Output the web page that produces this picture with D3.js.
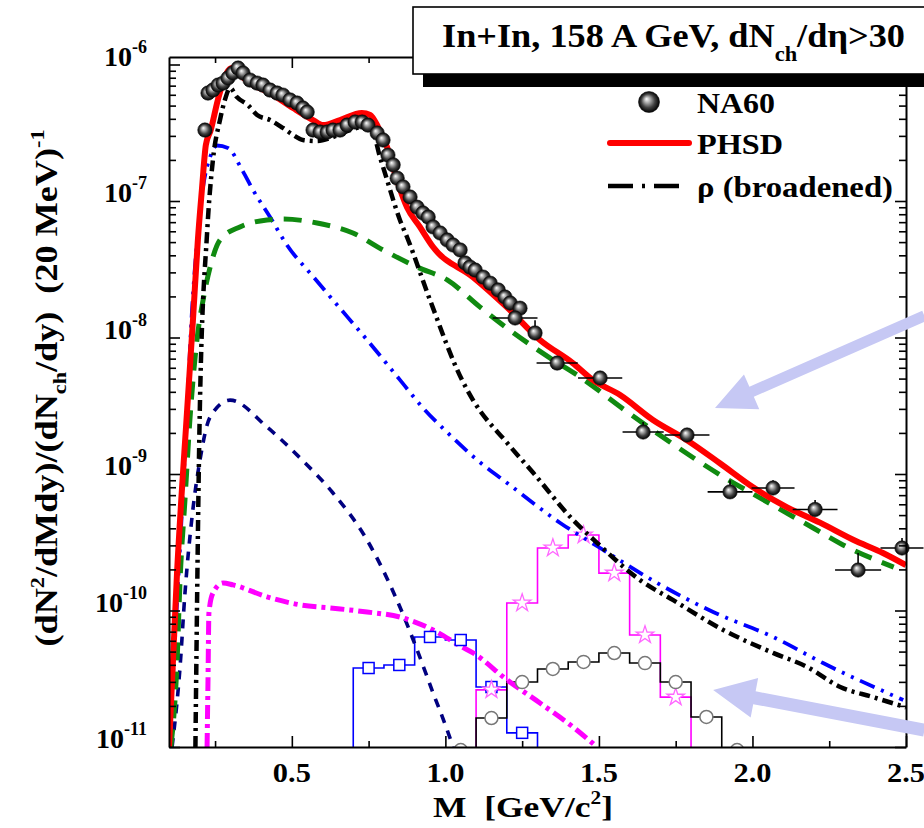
<!DOCTYPE html>
<html>
<head>
<meta charset="utf-8">
<script src="https://cdnjs.cloudflare.com/ajax/libs/d3/7.8.5/d3.min.js"></script>
<style>
body { margin: 0; background: #fff; }
text { font-family: "Liberation Serif", "Times New Roman", Times, serif; font-weight: bold; fill: #000; white-space: pre; }
</style>
</head>
<body>
<div id="graph"></div>
<script>
// NA60 data, fine 20 MeV bins
var na60M = [0.217, 0.227, 0.243, 0.260, 0.276, 0.292, 0.308, 0.325, 0.341, 0.364, 0.387, 0.406, 0.429, 0.452, 0.471, 0.494, 0.517, 0.536, 0.550, 0.569, 0.592, 0.615, 0.634, 0.657, 0.680, 0.706, 0.729, 0.748, 0.778, 0.797, 0.813, 0.830, 0.843, 0.862, 0.885, 0.908, 0.927, 0.944, 0.960, 0.983, 1.006, 1.025, 1.048, 1.064, 1.080, 1.097, 1.123, 1.146, 1.172, 1.194, 1.211, 1.243]
var na60V = [3.31e-7, 6.18e-7, 6.5e-7, 7.07e-7, 7.31e-7, 7.96e-7, 8.67e-7, 9.42e-7, 8.67e-7, 7.69e-7, 7.31e-7, 7.07e-7, 6.5e-7, 6.18e-7, 5.97e-7, 5.5e-7, 5.22e-7, 4.8e-7, 4.49e-7, 3.31e-7, 3.2e-7, 3.2e-7, 3.31e-7, 3.31e-7, 3.6e-7, 3.79e-7, 3.79e-7, 3.6e-7, 3.15e-7, 2.8e-7, 2.17e-7, 1.84e-7, 1.47e-7, 1.27e-7, 1.07e-7, 9.0e-8, 8.17e-8, 7.63e-8, 6.46e-8, 5.83e-8, 5.18e-8, 4.76e-8, 4.38e-8, 3.52e-8, 3.28e-8, 3.12e-8, 2.77e-8, 2.5e-8, 2.23e-8, 1.98e-8, 1.79e-8, 1.64e-8]
// NA60 data, wide bins with error bars
var na60BinM = [1.227, 1.292, 1.364, 1.504, 1.644, 1.787, 1.927, 2.067, 2.204, 2.344, 2.487]
var na60BinV = [1.39e-8, 1.08e-8, 6.5e-9, 5.05e-9, 2.03e-9, 1.93e-9, 7.4e-10, 7.9e-10, 5.5e-10, 1.98e-10, 2.87e-10]
var na60BinDx = [0.073, 0, 0.067, 0.072, 0.067, 0.073, 0.073, 0.07, 0.073, 0.075, 0.07]
var na60BinHi = [1.5e-8, 1.34e-8, 7.0e-9, 5.5e-9, 2.4e-9, 2.1e-9, 9.0e-10, 9.0e-10, 6.46e-10, 2.64e-10, 3.4e-10]

var phsdM = [0.100, 0.126, 0.159, 0.178, 0.194, 0.207, 0.220, 0.236, 0.259, 0.288, 0.305, 0.331, 0.364, 0.429, 0.504, 0.569, 0.602, 0.657, 0.728, 0.755, 0.781, 0.810, 0.842, 0.875, 0.917, 0.960, 1.090, 1.200, 1.308, 1.415, 1.480, 1.569, 1.676, 1.787, 1.894, 2.002, 2.113, 2.220, 2.328, 2.425, 2.500]
var phsdV = [1e-11, 1.86e-10, 2.94e-9, 1.34e-8, 5.18e-8, 1.2e-7, 2.57e-7, 3.31e-7, 5.5e-7, 8.67e-7, 9.42e-7, 8.38e-7, 7.31e-7, 6.18e-7, 4.8e-7, 3.92e-7, 3.6e-7, 3.92e-7, 4.42e-7, 4.27e-7, 3.48e-7, 2.49e-7, 1.43e-7, 9.0e-8, 6.46e-8, 4.6e-8, 2.77e-8, 1.67e-8, 9.6e-9, 6.5e-9, 4.89e-9, 3.79e-9, 2.49e-9, 1.77e-9, 1.2e-9, 8.0e-10, 5.7e-10, 4.4e-10, 3.3e-10, 2.64e-10, 2.15e-10]

var rhoM = [0.186, 0.201, 0.224, 0.243, 0.266, 0.282, 0.299, 0.321, 0.357, 0.387, 0.429, 0.471, 0.504, 0.536, 0.582, 0.634, 0.690, 0.732, 0.761, 0.787, 0.810, 0.830, 0.852, 0.875, 0.950, 1.054, 1.090, 1.201, 1.286, 1.416, 1.494, 1.634, 1.742, 1.905, 2.067, 2.178, 2.286, 2.393, 2.500]
var rhoV = [1e-11, 3.48e-9, 5.83e-8, 2.0e-7, 3.92e-7, 5.5e-7, 6.73e-7, 5.78e-7, 5.05e-7, 4.27e-7, 3.92e-7, 3.43e-7, 3.05e-7, 2.8e-7, 2.75e-7, 2.94e-7, 3.31e-7, 3.48e-7, 3.31e-7, 2.1e-7, 1.43e-7, 1.02e-7, 7.26e-8, 5.45e-8, 1.88e-8, 4.89e-9, 3.48e-9, 1.69e-9, 1.02e-9, 4.6e-10, 3.13e-10, 1.67e-10, 1.19e-10, 7.2e-11, 4.89e-11, 3.86e-11, 2.75e-11, 2.32e-11, 1.95e-11]

var blueM = [0.100, 0.159, 0.175, 0.191, 0.211, 0.234, 0.256, 0.292, 0.338, 0.374, 0.429, 0.484, 0.569, 0.634, 0.745, 0.852, 0.927, 1.015, 1.103, 1.201, 1.374, 1.504, 1.690, 1.872, 2.067, 2.230, 2.491]
var blueV = [1e-11, 2.94e-9, 1.59e-8, 4.92e-8, 1.27e-7, 2.1e-7, 2.55e-7, 2.45e-7, 1.69e-7, 1.2e-7, 7.63e-8, 4.76e-8, 2.8e-8, 1.88e-8, 9.6e-9, 4.89e-9, 3.05e-9, 1.93e-9, 1.27e-9, 8.6e-10, 4.38e-10, 2.87e-10, 1.59e-10, 9.75e-11, 6.4e-11, 4.12e-11, 2.21e-11]

var greenM = [0.106, 0.126, 0.136, 0.152, 0.168, 0.191, 0.211, 0.234, 0.266, 0.331, 0.419, 0.471, 0.582, 0.699, 0.797, 0.908, 1.006, 1.113, 1.201, 1.351, 1.429, 1.592, 1.732, 1.895, 2.048, 2.198, 2.295, 2.460]
var greenV = [1e-11, 4.12e-11, 1.67e-10, 6.46e-10, 2.49e-9, 9.6e-9, 1.88e-8, 3.28e-8, 5.18e-8, 6.46e-8, 7.26e-8, 7.38e-8, 6.9e-8, 5.83e-8, 4.38e-8, 3.28e-8, 2.64e-8, 1.67e-8, 1.17e-8, 6.84e-9, 5.31e-9, 2.85e-9, 1.71e-9, 9.84e-10, 6.24e-10, 4.02e-10, 3.02e-10, 2.08e-10]

var navyM = [0.110, 0.136, 0.152, 0.175, 0.201, 0.234, 0.299, 0.419, 0.527, 0.634, 0.745, 0.852, 0.908, 0.960, 1.006, 1.025]
var navyV = [1e-11, 3.86e-11, 1.34e-10, 4.84e-10, 1.27e-9, 2.62e-9, 3.48e-9, 2.21e-9, 1.31e-9, 7.26e-10, 3.28e-10, 1.06e-10, 5.14e-11, 2.49e-11, 1.33e-11, 1e-11]

var magM = [0.224, 0.227, 0.230, 0.243, 0.276, 0.308, 0.419, 0.527, 0.634, 0.745, 0.852, 0.960, 1.054, 1.090, 1.201, 1.308, 1.416, 1.494]
var magV = [1e-11, 3.1e-11, 9.6e-11, 1.34e-10, 1.59e-10, 1.54e-10, 1.26e-10, 1.1e-10, 1.04e-10, 9.75e-11, 8.95e-11, 7.2e-11, 5.41e-11, 4.89e-11, 3.1e-11, 2.1e-11, 1.4e-11, 1e-11]

// histograms (bin edges, contents)
var sqEdges = [0.7, 0.8, 0.9, 1.0, 1.1, 1.2, 1.3]
var sqV = [3.79e-11, 3.99e-11, 6.4e-11, 6.08e-11, 2.75e-11, 1.27e-11]
var starEdges = [1.1, 1.2, 1.3, 1.4, 1.5, 1.6, 1.7, 1.8]
var starV = [2.62e-11, 1.135e-10, 2.87e-10, 3.57e-10, 1.88e-10, 6.62e-11, 2.32e-11]
var circEdges = [1.0, 1.1, 1.2, 1.3, 1.4, 1.5, 1.6, 1.7, 1.8, 1.9, 2.0]
var circV = [9.5e-12, 1.63e-11, 2.99e-11, 3.73e-11, 4.2e-11, 4.88e-11, 4.12e-11, 2.99e-11, 1.66e-11, 9.5e-12]

var xMajor = [0.5, 1.0, 1.5, 2.0, 2.5]
var xMinor = [0.25, 0.75, 1.25, 1.75, 2.25]
var yExp = [-6, -7, -8, -9, -10, -11]

// arrows (data coords)
var arrowFrom = [[2.56, 1.44e-8], [2.56, 1.33e-11]]
var arrowTo = [[1.878, 3.05e-9], [1.872, 2.62e-11]]

const width = 924
const height = 828
var pL = 169, pR = 906, pT = 57, pB = 747

var x = d3.scaleLinear().domain([0.1, 2.5]).range([pL, pR])
var y = d3.scaleLog().domain([1e-11, 1.135e-6]).range([pB, pT])

var svg = d3.select("#graph").append("svg").attr("width", width).attr("height", height)
var defs = svg.append("defs")
defs.append("clipPath").attr("id", "plotclip").append("rect")
	.attr("x", pL).attr("y", pT).attr("width", pR - pL).attr("height", pB - pT)
var grad = defs.append("radialGradient").attr("id", "ball")
	.attr("cx", "50%").attr("cy", "50%").attr("r", "50%").attr("fx", "38%").attr("fy", "35%")
grad.append("stop").attr("offset", "0%").attr("stop-color", "#ffffff")
grad.append("stop").attr("offset", "25%").attr("stop-color", "#b8b8b8")
grad.append("stop").attr("offset", "65%").attr("stop-color", "#404040")
grad.append("stop").attr("offset", "100%").attr("stop-color", "#000000")

function zip(ms, vs) { return ms.map((m, i) => [m, vs[i]]) }
var smooth = d3.line().x(d => x(d[0])).y(d => y(d[1])).curve(d3.curveMonotoneX)
var straight = d3.line().x(d => x(d[0])).y(d => y(d[1]))
function histPts(edges, vals) {
	var p = [[edges[0], 1e-12]]
	vals.forEach((v, i) => { p.push([edges[i], v]); p.push([edges[i + 1], v]) })
	p.push([edges[edges.length - 1], 1e-12])
	return p
}
function centers(edges, vals) { return vals.map((v, i) => [(edges[i] + edges[i + 1]) / 2, v]) }

var plot = svg.append("g").attr("clip-path", "url(#plotclip)")

// histograms
plot.append("path").attr("d", straight(histPts(sqEdges, sqV)))
	.style("fill", "none").style("stroke", "#0000ff").style("stroke-width", 1.6)
plot.append("path").attr("d", straight(histPts(starEdges, starV)))
	.style("fill", "none").style("stroke", "#ff00ff").style("stroke-width", 1.6)
plot.append("path").attr("d", straight(histPts(circEdges, circV)))
	.style("fill", "none").style("stroke", "#000").style("stroke-width", 1.6)

// curves
plot.append("path").attr("d", smooth(zip(navyM, navyV)))
	.style("fill", "none").style("stroke", "#000080").style("stroke-width", 3.6).style("stroke-dasharray", "9,8")
plot.append("path").attr("d", smooth(zip(magM, magV)))
	.style("fill", "none").style("stroke", "#ff00ff").style("stroke-width", 5).style("stroke-dasharray", "14,5,4,5")

plot.selectAll("rect.sq").data(centers(sqEdges, sqV)).enter().append("rect").attr("class", "sq")
	.attr("x", d => x(d[0]) - 5.5).attr("y", d => y(d[1]) - 5.5).attr("width", 11).attr("height", 11)
	.style("fill", "#fff").style("stroke", "#0000ff").style("stroke-width", 1.5)
plot.selectAll("path.star").data(centers(starEdges, starV)).enter().append("path").attr("class", "star")
	.attr("d", d3.symbol().type(d3.symbolStar).size(95))
	.attr("transform", d => "translate(" + x(d[0]) + "," + y(d[1]) + ")")
	.style("fill", "#fff").style("stroke", "#ff66ff").style("stroke-width", 1.3)
plot.selectAll("circle.mc").data(centers(circEdges, circV)).enter().append("circle").attr("class", "mc")
	.attr("cx", d => x(d[0])).attr("cy", d => y(d[1])).attr("r", 6.5)
	.style("fill", "#fff").style("stroke", "#777").style("stroke-width", 1.5)

plot.append("path").attr("d", smooth(zip(blueM, blueV)))
	.style("fill", "none").style("stroke", "#0000ff").style("stroke-width", 3.8).style("stroke-dasharray", "16,7,3,7,3,7")
plot.append("path").attr("d", smooth(zip(greenM, greenV)))
	.style("fill", "none").style("stroke", "#108a10").style("stroke-width", 5).style("stroke-dasharray", "18,11")
plot.append("path").attr("d", smooth(zip(rhoM, rhoV)))
	.style("fill", "none").style("stroke", "#000").style("stroke-width", 4.5).style("stroke-dasharray", "11,5,3,5")

// NA60 points
var bins = na60BinM.map((m, i) => ({ m: m, v: na60BinV[i], dx: na60BinDx[i], hi: na60BinHi[i] }))
svg.selectAll("line.xerr").data(bins.filter(d => d.dx > 0)).enter().append("line").attr("class", "xerr")
	.attr("x1", d => x(d.m - d.dx)).attr("x2", d => x(d.m + d.dx))
	.attr("y1", d => y(d.v)).attr("y2", d => y(d.v))
	.style("stroke", "#000").style("stroke-width", 1.6)
svg.selectAll("line.yerr").data(bins).enter().append("line").attr("class", "yerr")
	.attr("x1", d => x(d.m)).attr("x2", d => x(d.m))
	.attr("y1", d => y(d.v)).attr("y2", d => y(d.hi))
	.style("stroke", "#000").style("stroke-width", 1.6)
svg.selectAll("circle.na60").data(zip(na60M, na60V).concat(bins.map(d => [d.m, d.v]))).enter()
	.append("circle").attr("class", "na60")
	.attr("cx", d => x(d[0])).attr("cy", d => y(d[1])).attr("r", 7.2)
	.style("fill", "url(#ball)").style("stroke", "#111").style("stroke-width", 0.6)

plot.append("path").attr("d", smooth(zip(phsdM, phsdV)))
	.style("fill", "none").style("stroke", "#ff0000").style("stroke-width", 6).style("stroke-linejoin", "round")

// axes
var yMinor = []
d3.range(-11, -5).forEach(e => { for (var k = 2; k < 10; k++) { var v = k * Math.pow(10, e); if (v < 1.135e-6) yMinor.push(v) } })
var yMajor = yExp.map(e => Math.pow(10, e))

function axisG(ax, tx, ty) {
	var g = svg.append("g").attr("transform", "translate(" + tx + "," + ty + ")").call(ax)
	g.selectAll("line").style("stroke", "#000").style("stroke-width", 1.6)
	g.select(".domain").style("stroke", "#000").style("stroke-width", 2)
	return g
}
axisG(d3.axisBottom(x).tickValues(xMajor).tickSize(-11).tickSizeOuter(0).tickFormat(""), 0, pB)
axisG(d3.axisBottom(x).tickValues(xMinor).tickSize(-6).tickFormat(""), 0, pB).select(".domain").remove()
axisG(d3.axisTop(x).tickValues(xMajor).tickSize(-11).tickSizeOuter(0).tickFormat(""), 0, pT)
axisG(d3.axisTop(x).tickValues(xMinor).tickSize(-6).tickFormat(""), 0, pT).select(".domain").remove()
axisG(d3.axisLeft(y).tickValues(yMajor).tickSize(-11).tickSizeOuter(0).tickFormat(""), pL, 0)
axisG(d3.axisLeft(y).tickValues(yMinor).tickSize(-7).tickFormat(""), pL, 0).select(".domain").remove()
axisG(d3.axisRight(y).tickValues(yMajor).tickSize(-11).tickSizeOuter(0).tickFormat(""), pR, 0)
axisG(d3.axisRight(y).tickValues(yMinor).tickSize(-7).tickFormat(""), pR, 0).select(".domain").remove()

svg.selectAll("text.xt").data(xMajor).enter().append("text").attr("class", "xt")
	.attr("x", d => x(d)).attr("y", 782).attr("text-anchor", "middle")
	.attr("textLength", 38).attr("lengthAdjust", "spacingAndGlyphs")
	.style("font-size", "27px").text(d => d.toFixed(1))
var yt = svg.selectAll("text.yt").data(yExp).enter().append("text").attr("class", "yt")
	.attr("x", 147).attr("y", d => y(Math.pow(10, d)) + 1).attr("text-anchor", "end")
	.style("font-size", "28px").text("10")
yt.append("tspan").attr("dy", -13).style("font-size", "18px").text(d => String(d))

var xl = svg.append("text").attr("x", 433).attr("y", 817)
	.attr("textLength", 180).attr("lengthAdjust", "spacingAndGlyphs").style("font-size", "30px")
xl.append("tspan").text("M  [GeV/c")
xl.append("tspan").attr("dy", -13).style("font-size", "18px").text("2")
xl.append("tspan").attr("dy", 13).text("]")

var yl = svg.append("text").attr("transform", "translate(57,388) rotate(-90)").attr("text-anchor", "middle")
	.attr("textLength", 517).attr("lengthAdjust", "spacingAndGlyphs").style("font-size", "31px")
yl.append("tspan").text("(dN")
yl.append("tspan").attr("dy", -13).style("font-size", "19px").text("2")
yl.append("tspan").attr("dy", 13).text("/dMdy)/(dN")
yl.append("tspan").attr("dy", 9).style("font-size", "19px").text("ch")
yl.append("tspan").attr("dy", -9).text("/dy)  (20 MeV)")
yl.append("tspan").attr("dy", -13).style("font-size", "19px").text("-1")

// title box
svg.append("rect").attr("x", 423).attr("y", 17).attr("width", 520).attr("height", 70).style("fill", "#000")
svg.append("rect").attr("x", 413).attr("y", 7).attr("width", 520).attr("height", 67)
	.style("fill", "#fff").style("stroke", "#000").style("stroke-width", 1.6)
var tt = svg.append("text").attr("x", 442).attr("y", 47)
	.attr("textLength", 463).attr("lengthAdjust", "spacingAndGlyphs").style("font-size", "34px")
tt.append("tspan").text("In+In, 158 A GeV, dN")
tt.append("tspan").attr("dy", 14).style("font-size", "21px").text("ch")
tt.append("tspan").attr("dy", -14).text("/d\u03b7>30")

// legend
svg.append("circle").attr("cx", 649).attr("cy", 102).attr("r", 10.5)
	.style("fill", "url(#ball)").style("stroke", "#111").style("stroke-width", 0.6)
svg.append("line").attr("x1", 610).attr("x2", 689).attr("y1", 143).attr("y2", 143)
	.style("stroke", "#ff0000").style("stroke-width", 6).style("stroke-linecap", "round")
svg.append("line").attr("x1", 608).attr("x2", 680).attr("y1", 186).attr("y2", 186)
	.style("stroke", "#000").style("stroke-width", 4.5).style("stroke-dasharray", "25,9,3,9")
svg.append("text").attr("x", 697).attr("y", 113).attr("textLength", 78).attr("lengthAdjust", "spacingAndGlyphs")
	.style("font-size", "29px").text("NA60")
svg.append("text").attr("x", 697).attr("y", 154).attr("textLength", 86).attr("lengthAdjust", "spacingAndGlyphs")
	.style("font-size", "29px").text("PHSD")
svg.append("text").attr("x", 697).attr("y", 197).attr("textLength", 196).attr("lengthAdjust", "spacingAndGlyphs")
	.style("font-size", "29px").text("\u03c1 (broadened)")

// arrows
function arrow(from, to, w, hl, hw) {
	var x0 = x(from[0]), y0 = y(from[1]), x1 = x(to[0]), y1 = y(to[1])
	var dx = x1 - x0, dy = y1 - y0, len = Math.sqrt(dx * dx + dy * dy)
	var ux = dx / len, uy = dy / len, nx = -uy, ny = ux
	var bx = x1 - ux * hl, by = y1 - uy * hl
	var pts = [[x0 + nx * w / 2, y0 + ny * w / 2], [bx + nx * w / 2, by + ny * w / 2], [bx + nx * hw, by + ny * hw], [x1, y1],
		[bx - nx * hw, by - ny * hw], [bx - nx * w / 2, by - ny * w / 2], [x0 - nx * w / 2, y0 - ny * w / 2]]
	svg.append("polygon").attr("points", pts.map(p => p.join(",")).join(" ")).style("fill", "#c6c8f4")
}
arrow(arrowFrom[0], arrowTo[0], 11, 40, 19)
arrow(arrowFrom[1], arrowTo[1], 13, 42, 20)
</script>
</body>
</html>
